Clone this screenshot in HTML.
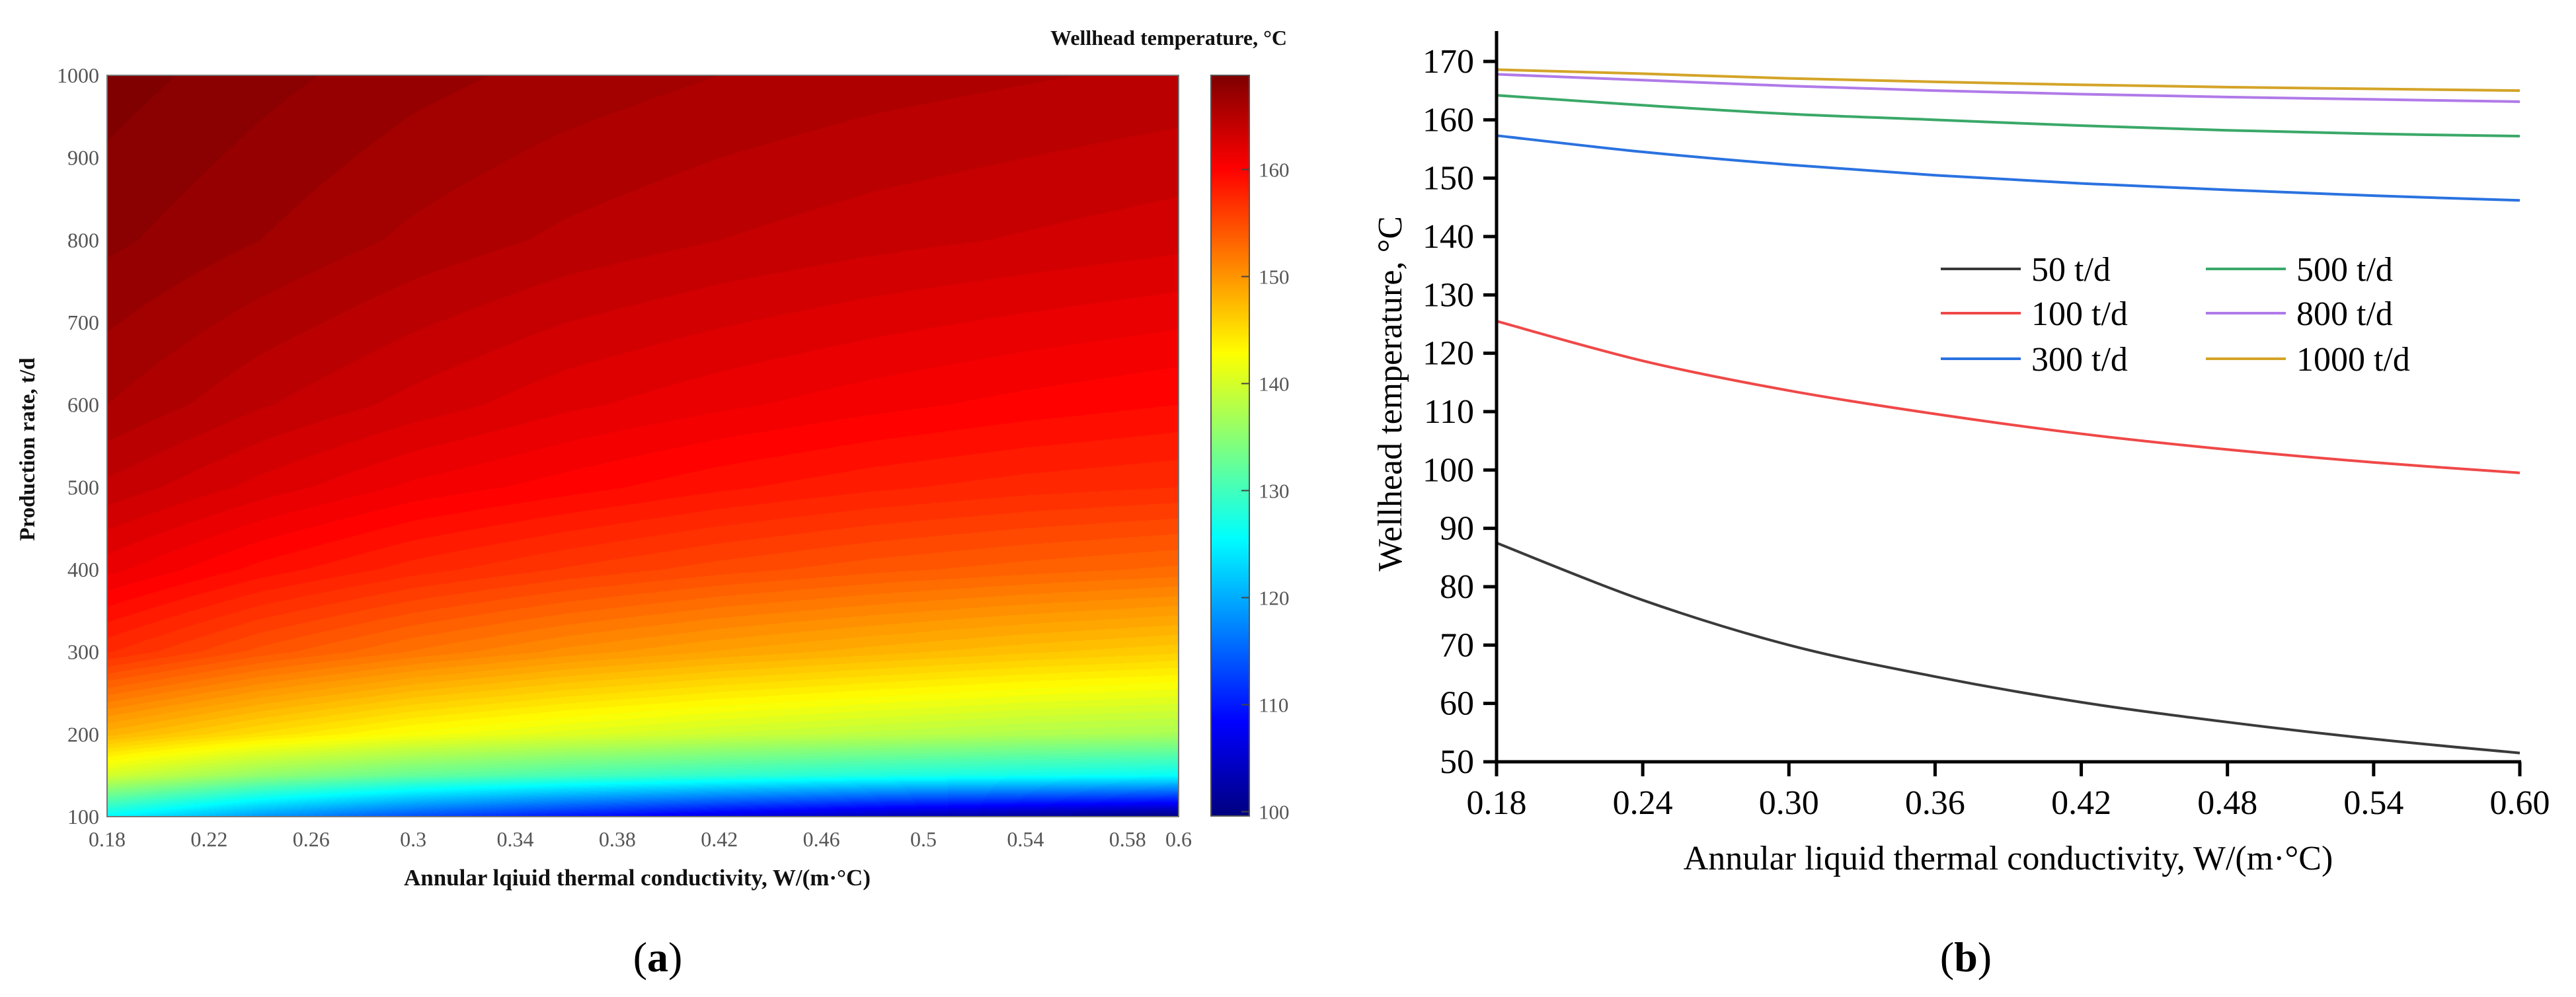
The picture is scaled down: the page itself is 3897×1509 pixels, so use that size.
<!DOCTYPE html>
<html><head><meta charset="utf-8"><style>
html,body{margin:0;padding:0;background:#fff;width:3897px;height:1509px;overflow:hidden}
#root{position:relative;width:3897px;height:1509px}
canvas{position:absolute}
svg{position:absolute;left:0;top:0}
</style></head><body><div id="root">
<canvas id="heat" width="1621" height="1122" style="left:162px;top:114px"></canvas>
<canvas id="cbar" width="58" height="1121" style="left:1832px;top:114px"></canvas>
<svg id="svg" width="3897" height="1509"></svg>
</div>
<script>
// ---------- Data: panel (a) heatmap ----------
const heatK = [0.18, 0.24, 0.30, 0.36, 0.42, 0.48, 0.54, 0.60];
const heatRates = [100, 150, 200, 300, 400, 500, 600, 800, 1000];
const heatT100 = [125.5, 118.7, 113.6, 109.6, 106.2, 103.5, 101.3, 99.5];
const heatT150 = [140, 135.5, 132.5, 130.5, 129, 127.8, 126.8, 126];
const heatT200 = [148, 145, 142.5, 140.8, 139.5, 138.5, 137.6, 137];
const heatT300 = [157.3, 154.5, 152.3, 150.5, 149.1, 148, 147, 146.2];
const heatT400 = [161.5, 159.3, 157.6, 156.3, 155.2, 154.3, 153.6, 153];
const heatT500 = [164.2, 162.5, 161, 160, 159, 158.2, 157.6, 157.2];
const heatT600 = [166, 164.5, 163.3, 162.2, 161.4, 160.7, 160.1, 159.6];
const heatT800 = [167.8, 166.8, 165.8, 165, 164.4, 163.9, 163.5, 163.1];
const heatT1000 = [168.8, 167.9, 167.1, 166.5, 166, 165.6, 165.3, 165];
const heatRows = [heatT100, heatT150, heatT200, heatT300, heatT400, heatT500, heatT600, heatT800, heatT1000];
const cbTicks = [100, 110, 120, 130, 140, 150, 160];
const heatXTicks = ["0.18","0.22","0.26","0.3","0.34","0.38","0.42","0.46","0.5","0.54","0.58","0.6"];
const heatYTicks = [100,200,300,400,500,600,700,800,900,1000];

// ---------- Data: panel (b) lines ----------
const lineK = [0.18, 0.24, 0.30, 0.36, 0.42, 0.48, 0.54, 0.60];
const s50 = [87.5, 77.7, 70.0, 64.6, 60.2, 56.8, 53.9, 51.5];
const s100 = [125.5, 118.7, 113.6, 109.6, 106.2, 103.5, 101.3, 99.5];
const s300 = [157.3, 154.5, 152.3, 150.5, 149.1, 148.0, 147.0, 146.2];
const s500 = [164.2, 162.5, 161.0, 160.0, 159.0, 158.2, 157.6, 157.2];
const s800 = [167.8, 166.8, 165.8, 165.0, 164.4, 163.9, 163.5, 163.1];
const s1000 = [168.6, 167.9, 167.1, 166.5, 166.0, 165.6, 165.3, 165.0];
const seriesNames = ["50 t/d","100 t/d","300 t/d","500 t/d","800 t/d","1000 t/d"];
const lineXTicks = ["0.18","0.24","0.30","0.36","0.42","0.48","0.54","0.60"];
const lineYTicks = [50,60,70,80,90,100,110,120,130,140,150,160,170];

const NS="http://www.w3.org/2000/svg";
const svg=document.getElementById('svg');
function mk(tag,attrs,txt){const e=document.createElementNS(NS,tag);for(const k in attrs)e.setAttribute(k,attrs[k]);if(txt!==undefined)e.textContent=txt;svg.appendChild(e);return e;}

function jet(t){t=Math.max(0,Math.min(1,t));
 const r=Math.max(0,Math.min(1,1.5-Math.abs(4*t-3)));
 const g=Math.max(0,Math.min(1,1.5-Math.abs(4*t-2)));
 const b=Math.max(0,Math.min(1,1.5-Math.abs(4*t-1)));
 return [r*255,g*255,b*255];}
const TMIN=99.6,TMAX=168.8;

const aX0=162,aX1=1783,aY0=1236,aY1=114;
const ax=k=>aX0+(k-0.18)/(0.60-0.18)*(aX1-aX0);
const ay=q=>aY0-(q-100)/(1000-100)*(aY0-aY1);
function interp(arr,v){let i=0;while(i<arr.length-2&&v>arr[i+1])i++;const f=(v-arr[i])/(arr[i+1]-arr[i]);return [i,Math.max(0,Math.min(1,f))];}
function heatVal(k,q){const [i,fi]=interp(heatRates,q);const [j,fj]=interp(heatK,k);
 const a=heatRows[i][j]*(1-fj)+heatRows[i][j+1]*fj;const b=heatRows[i+1][j]*(1-fj)+heatRows[i+1][j+1]*fj;return a*(1-fi)+b*fi;}
(function(){const c=document.getElementById('heat'),ctx=c.getContext('2d');const W=c.width,H=c.height;const img=ctx.createImageData(W,H);
 for(let py=0;py<H;py++){const q=1000-(py/(H-1))*900;for(let px=0;px<W;px++){const k=0.18+(px/(W-1))*0.42;
  let T=heatVal(k,q);T=TMIN+Math.floor((T-TMIN)/0.8)*0.8+0.4;const col=jet((T-TMIN)/(TMAX-TMIN));const o=(py*W+px)*4;img.data[o]=col[0];img.data[o+1]=col[1];img.data[o+2]=col[2];img.data[o+3]=255;}}
 ctx.putImageData(img,0,0);
 const cb=document.getElementById('cbar'),cx=cb.getContext('2d');
 for(let py=0;py<cb.height;py++){const col=jet(1-py/(cb.height-1));cx.fillStyle=`rgb(${col[0]|0},${col[1]|0},${col[2]|0})`;cx.fillRect(0,py,58,1);}
})();
mk('rect',{x:aX0,y:aY1,width:aX1-aX0,height:aY0-aY1,fill:'none',stroke:'#777','stroke-width':2,});
mk('rect',{x:1832,y:114,width:58,height:1121,fill:'none',stroke:'#555','stroke-width':2,});
const cby=t=>1235-(t-TMIN)/(TMAX-TMIN)*1121;
cbTicks.forEach(t=>{const y=cby(t);
 const l=mk('line',{x1:1878,x2:1890,y1:y,y2:y,stroke:'#444','stroke-width':2});
 
 const e=mk('text',{x:1904,y:y+11,'font-family':'Liberation Serif, serif','font-size':31,fill:'#555'},String(t));
 });
heatXTicks.forEach(s=>{const x=ax(parseFloat(s));
 const e=mk('text',{x:x,y:1281,'text-anchor':'middle','font-family':'Liberation Serif, serif','font-size':32,fill:'#555'},s);
 });
heatYTicks.forEach(q=>{const y=ay(q);
 const e=mk('text',{x:150,y:y+11,'text-anchor':'end','font-family':'Liberation Serif, serif','font-size':32,fill:'#555'},String(q));
 });
let t;
t=mk('text',{x:1947,y:68,'text-anchor':'end','font-family':'Liberation Serif, serif','font-size':32,'font-weight':'bold',fill:'#111'},'Wellhead temperature, °C');
t=mk('text',{x:964,y:1340,'text-anchor':'middle','font-family':'Liberation Serif, serif','font-size':35,'font-weight':'bold',fill:'#111'},'Annular lqiuid thermal conductivity, W/(m·°C)');
t=mk('text',{x:0,y:0,transform:'translate(52,680) rotate(-90)','text-anchor':'middle','font-family':'Liberation Serif, serif','font-size':33,'font-weight':'bold',fill:'#111'},'Production rate, t/d');
t=mk('text',{x:995,y:1470,'text-anchor':'middle','font-family':'Liberation Serif, serif','font-size':64,fill:'#000'},'');
t.innerHTML='(<tspan font-weight="bold">a</tspan>)';

const bX0=2264,bX1=3812,bY0=1153,bY1=93;
const bx=k=>bX0+(k-0.18)/(0.60-0.18)*(bX1-bX0);
const by=v=>bY0-(v-50)/(170-50)*(bY0-bY1);
const colors=['#3a3a3a','#f04848','#2a72e0','#3aa868','#b07ae8','#d4a428'];
const allS=[s50,s100,s300,s500,s800,s1000];
function smoothPath(xs,ys){let d=`M${bx(xs[0])},${by(ys[0])}`;
 for(let i=0;i<xs.length-1;i++){const p0=i>0?i-1:i,p3=i+2<xs.length?i+2:i+1;
  const x1=bx(xs[i]),y1=by(ys[i]),x2=bx(xs[i+1]),y2=by(ys[i+1]);
  const c1x=x1+(x2-bx(xs[p0]))/6,c1y=y1+(y2-by(ys[p0]))/6,c2x=x2-(bx(xs[p3])-x1)/6,c2y=y2-(by(ys[p3])-y1)/6;
  d+=` C${c1x},${c1y} ${c2x},${c2y} ${x2},${y2}`;}return d;}
allS.forEach((s,i)=>{const p=mk('path',{d:smoothPath(lineK,s),fill:'none',stroke:colors[i],'stroke-width':4});
 });
t=mk('line',{x1:bX0,x2:bX0,y1:47,y2:1175,stroke:'#000','stroke-width':5});
t=mk('line',{x1:2244,x2:bX1+2,y1:bY0,y2:bY0,stroke:'#000','stroke-width':5});
lineYTicks.forEach(v=>{const y=by(v);
 const l=mk('line',{x1:2244,x2:bX0,y1:y,y2:y,stroke:'#000','stroke-width':5});
 const e=mk('text',{x:2230,y:y+17,'text-anchor':'end','font-family':'Liberation Serif, serif','font-size':52,fill:'#000'},String(v));
 });
lineXTicks.forEach(s=>{const x=bx(parseFloat(s));
 const l=mk('line',{x1:x,x2:x,y1:bY0,y2:1175,stroke:'#000','stroke-width':5});
 const e=mk('text',{x:x,y:1232,'text-anchor':'middle','font-family':'Liberation Serif, serif','font-size':52,fill:'#000'},s);
 });
t=mk('text',{x:3038,y:1316,'text-anchor':'middle','font-family':'Liberation Serif, serif','font-size':52,fill:'#000'},'Annular liquid thermal conductivity, W/(m·°C)');
t=mk('text',{x:0,y:0,transform:'translate(2120,596) rotate(-90)','text-anchor':'middle','font-family':'Liberation Serif, serif','font-size':52,fill:'#000'},'Wellhead temperature, °C');
const legX=[2936,3337],legY=[407,474,543];
seriesNames.forEach((n,i)=>{const col=Math.floor(i/3),row=i%3;const x=legX[col],y=legY[row];
 const l=mk('line',{x1:x,x2:x+121,y1:y,y2:y,stroke:colors[i],'stroke-width':4});
 const e=mk('text',{x:x+137,y:y+18,'font-family':'Liberation Serif, serif','font-size':52,fill:'#000'},n);
 });
t=mk('text',{x:2974,y:1470,'text-anchor':'middle','font-family':'Liberation Serif, serif','font-size':64,fill:'#000'},'');
t.innerHTML='(<tspan font-weight="bold">b</tspan>)';
</script></body></html>
